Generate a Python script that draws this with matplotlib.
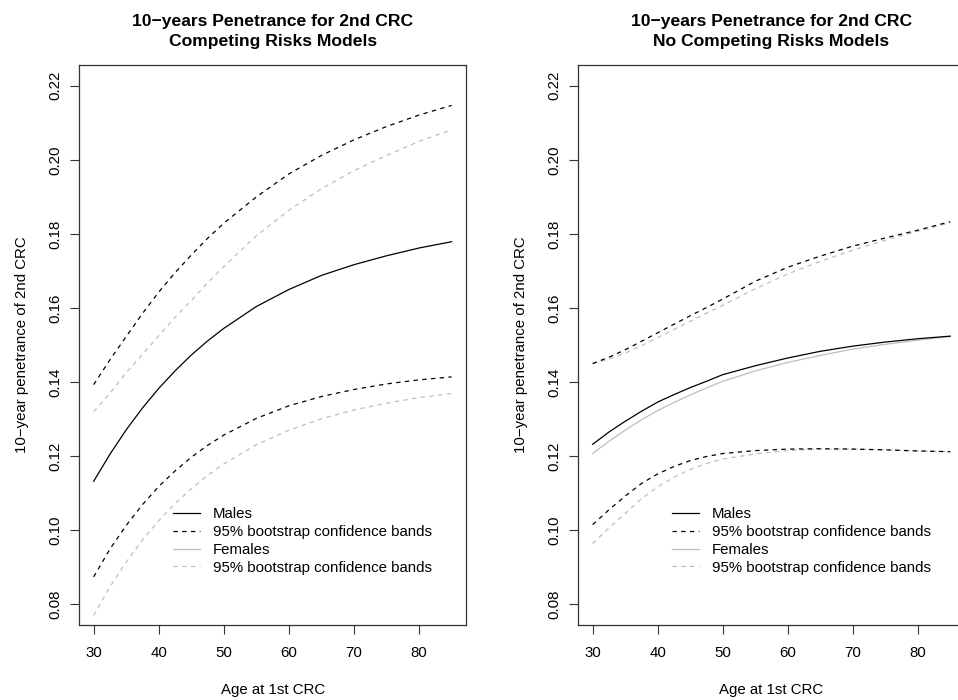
import matplotlib
matplotlib.use("Agg")
import matplotlib.pyplot as plt
from matplotlib.lines import Line2D

plt.rcParams['font.family'] = ['Liberation Sans', 'DejaVu Sans']

# --- data ---
ages = [30, 32.5, 35, 37.5, 40, 42.5, 45, 47.5, 50, 55, 60, 65, 70, 75, 80, 85]

# Competing risks models
cr_male    = [0.1132, 0.1205, 0.1271, 0.1330, 0.1383, 0.1430, 0.1473, 0.1511, 0.1545, 0.1604, 0.1650, 0.1688, 0.1717, 0.1741, 0.1762, 0.1779]
cr_male_hi = [0.1393, 0.1460, 0.1523, 0.1585, 0.1643, 0.1695, 0.1743, 0.1788, 0.1829, 0.1900, 0.1962, 0.2012, 0.2054, 0.2090, 0.2121, 0.2147]
cr_male_lo = [0.0874, 0.0949, 0.1013, 0.1069, 0.1118, 0.1160, 0.1197, 0.1229, 0.1257, 0.1302, 0.1336, 0.1361, 0.1380, 0.1395, 0.1406, 0.1414]
cr_fem_hi  = [0.1320, 0.1370, 0.1425, 0.1475, 0.1525, 0.1575, 0.1620, 0.1668, 0.1712, 0.1795, 0.1864, 0.1922, 0.1971, 0.2012, 0.2050, 0.2081]
cr_fem_lo  = [0.0770, 0.0847, 0.0914, 0.0974, 0.1026, 0.1072, 0.1112, 0.1148, 0.1179, 0.1231, 0.1270, 0.1301, 0.1325, 0.1343, 0.1358, 0.1369]

# No competing risks models
ncr_male    = [0.1232, 0.1265, 0.1294, 0.1321, 0.1346, 0.1366, 0.1385, 0.1402, 0.1420, 0.1444, 0.1465, 0.1483, 0.1497, 0.1508, 0.1517, 0.1524]
ncr_male_hi = [0.1450, 0.1467, 0.1487, 0.1510, 0.1533, 0.1556, 0.1579, 0.1601, 0.1624, 0.1672, 0.1710, 0.1740, 0.1767, 0.1789, 0.1810, 0.1833]
ncr_male_lo = [0.1015, 0.1055, 0.1092, 0.1126, 0.1152, 0.1172, 0.1188, 0.1199, 0.1207, 0.1215, 0.1219, 0.1220, 0.1219, 0.1217, 0.1214, 0.1212]
ncr_fem     = [0.1207, 0.1240, 0.1270, 0.1298, 0.1323, 0.1345, 0.1365, 0.1384, 0.1402, 0.1430, 0.1453, 0.1472, 0.1489, 0.1502, 0.1513, 0.1523]
ncr_fem_hi  = [0.1450, 0.1462, 0.1478, 0.1498, 0.1520, 0.1542, 0.1564, 0.1586, 0.1607, 0.1652, 0.1692, 0.1726, 0.1756, 0.1783, 0.1807, 0.1830]
ncr_fem_lo  = [0.0964, 0.1006, 0.1045, 0.1085, 0.1117, 0.1143, 0.1164, 0.1180, 0.1192, 0.1206, 0.1215, 0.1219, 0.1219, 0.1217, 0.1214, 0.1212]

TITLES = ["10\u2212years Penetrance for 2nd CRC\nCompeting Risks Models",
          "10\u2212years Penetrance for 2nd CRC\nNo Competing Risks Models"]
YLABEL = "10\u2212year penetrance of 2nd CRC"
XLABEL = "Age at 1st CRC"
LEG_LABELS = ["Males", "95% bootstrap confidence bands",
              "Females", "95% bootstrap confidence bands"]
XTICKS = [30, 40, 50, 60, 70, 80]
YTICKS = [0.08, 0.10, 0.12, 0.14, 0.16, 0.18, 0.20, 0.22]

GRAY = "#BEBEBE"
LW = 0.9
DASH = (0, (3.5, 3.5))
FS = 10.8

fig = plt.figure(figsize=(9.58, 7.0), dpi=100)
ax1 = fig.add_axes([0.0828, 0.1071, 0.4036, 0.8])
ax2 = fig.add_axes([0.6037, 0.1071, 0.4031, 0.8])

panels = [
    (ax1, TITLES[0], cr_male, cr_male_lo, cr_male_hi, None, cr_fem_lo, cr_fem_hi),
    (ax2, TITLES[1], ncr_male, ncr_male_lo, ncr_male_hi, ncr_fem, ncr_fem_lo, ncr_fem_hi),
]

for ax, title, m, m_lo, m_hi, f, f_lo, f_hi in panels:
    # females first (gray), males drawn on top
    if f is not None:
        ax.plot(ages, f, color=GRAY, lw=LW)
    ax.plot(ages, f_lo, color=GRAY, lw=LW, ls=DASH)
    ax.plot(ages, f_hi, color=GRAY, lw=LW, ls=DASH)
    ax.plot(ages, m, color="black", lw=LW)
    ax.plot(ages, m_lo, color="black", lw=LW, ls=DASH)
    ax.plot(ages, m_hi, color="black", lw=LW, ls=DASH)

    ax.set_xlim(27.8, 87.2)
    ax.set_ylim(0.0744, 0.2256)
    ax.set_xticks(XTICKS)
    ax.set_yticks(YTICKS)
    ax.set_yticklabels([f"{v:.2f}" for v in YTICKS], rotation=90, va="center")
    ax.tick_params(axis="both", direction="out", length=6.5, width=0.8,
                   labelsize=FS, color="#333333")
    ax.tick_params(axis="x", pad=8.5)
    ax.tick_params(axis="y", pad=6)
    for sp in ax.spines.values():
        sp.set_linewidth(0.9)
        sp.set_color("#333333")

    ax.set_title(title, fontsize=12.6, fontweight="bold", linespacing=1.4, pad=14)
    ax.set_xlabel(XLABEL, fontsize=FS, labelpad=16.5)
    ax.set_ylabel(YLABEL, fontsize=FS, labelpad=14)

    handles = [Line2D([], [], color="black", lw=LW),
               Line2D([], [], color="black", lw=LW, ls=DASH),
               Line2D([], [], color=GRAY, lw=LW),
               Line2D([], [], color=GRAY, lw=LW, ls=DASH)]
    ax.legend(handles, LEG_LABELS, loc="center left", bbox_to_anchor=(0.2415, 0.150),
              frameon=False, fontsize=FS, borderpad=0, borderaxespad=0,
              handlelength=1.8, handletextpad=0.88, labelspacing=0.25)

fig.savefig("out.png", dpi=100)
